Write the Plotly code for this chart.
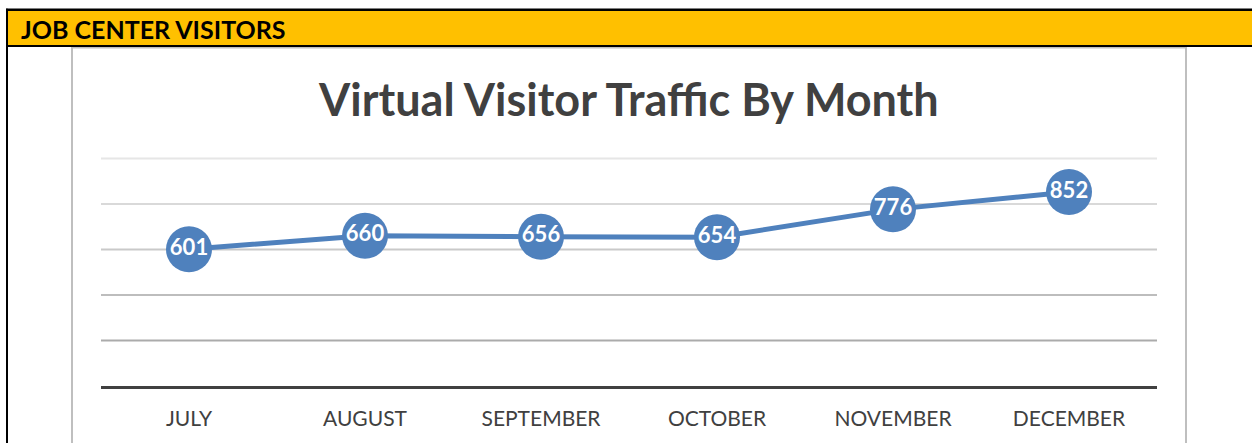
import plotly.graph_objects as go

months = ["JULY", "AUGUST", "SEPTEMBER", "OCTOBER", "NOVEMBER", "DECEMBER"]
visitors = [601, 660, 656, 654, 776, 852]
grid_values = [200, 400, 600, 800, 1000]
grid_colors = ["#ABABAB", "#BDBDBD", "#C9C9C9", "#D9D9D9", "#E6E6E6"]

W, H = 1252, 443
L, R, B = 101, 1157, 386  # plot area in pixels
Y_MAX = 1050
T = B - 228 * Y_MAX / 1000  # keep 1000 at y=158


def px(x):
    return (x - L) / (R - L)


def py(y):
    return (B - y) / (B - T)


BLUE = "#4F81BD"
DARK = "#404040"
FONT = "Lato"

fig = go.Figure()
fig.add_trace(go.Scatter(
    x=months, y=visitors, mode="lines+markers+text",
    line=dict(color=BLUE, width=5),
    marker=dict(size=46, color=BLUE, line=dict(width=0)),
    text=[str(v) for v in visitors], textposition="middle center",
    textfont=dict(family=FONT, size=22, color="white", weight="bold"),
    cliponaxis=False, hoverinfo="skip", showlegend=False,
))

shapes = [
    # chart box
    dict(type="rect", xref="paper", yref="paper", x0=px(72), x1=px(1186), y0=py(460), y1=py(47),
         line=dict(color="#BFBFBF", width=2), fillcolor="white", layer="below"),
    # header band
    dict(type="rect", xref="paper", yref="paper", x0=px(7), x1=px(1260), y0=py(45.5), y1=py(9),
         line=dict(width=0), fillcolor="#FFC000", layer="above"),
    dict(type="line", xref="paper", yref="paper", x0=px(6), x1=px(1260), y0=py(9), y1=py(9),
         line=dict(color="black", width=2.5)),
    dict(type="line", xref="paper", yref="paper", x0=px(6), x1=px(1260), y0=py(45.5), y1=py(45.5),
         line=dict(color="black", width=2)),
    dict(type="line", xref="paper", yref="paper", x0=px(7), x1=px(7), y0=py(8), y1=py(460),
         line=dict(color="black", width=2)),
]
for v, c in zip(grid_values, grid_colors):
    shapes.append(dict(type="line", xref="paper", yref="y", x0=0, x1=1, y0=v, y1=v,
                       line=dict(color=c, width=2), layer="below"))

annotations = [
    dict(text="<b>JOB CENTER VISITORS</b>", xref="paper", yref="paper", x=px(19), y=py(28),
         xanchor="left", yanchor="middle", showarrow=False,
         font=dict(family=FONT, size=25, color="black")),
    dict(text="<b>Virtual Visitor Traffic By Month</b>", xref="paper", yref="paper", x=px(628), y=py(99),
         xanchor="center", yanchor="middle", showarrow=False,
         font=dict(family=FONT, size=45, color=DARK)),
]

fig.update_layout(
    width=W, height=H,
    margin=dict(l=L, r=W - R, t=T, b=H - B, pad=0),
    paper_bgcolor="white", plot_bgcolor="rgba(0,0,0,0)",
    shapes=shapes, annotations=annotations,
    xaxis=dict(type="category", range=[-0.5, 5.5], showgrid=False, zeroline=False,
               showline=True, linecolor=DARK, linewidth=3,
               ticks="", tickfont=dict(family=FONT, size=21, color=DARK),
               ticklabelstandoff=12, fixedrange=True),
    yaxis=dict(range=[0, Y_MAX], showticklabels=False, showgrid=False,
               zeroline=False, showline=False, fixedrange=True),
)

fig.write_html("out.html", config={"displayModeBar": False, "staticPlot": True},
               post_script="document.body.style.margin='0';document.body.style.overflow='hidden';")
